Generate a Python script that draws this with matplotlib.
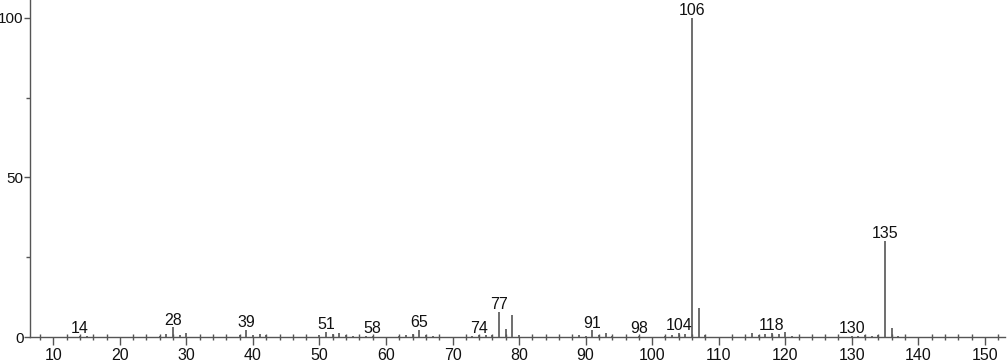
import matplotlib
matplotlib.use("Agg")
import matplotlib.pyplot as plt
from matplotlib.ticker import MultipleLocator

plt.rcParams['font.family'] = ['Liberation Sans', 'DejaVu Sans']

mz = [14, 15, 26, 27, 28, 29, 30, 38, 39, 40, 41, 42, 50, 51, 52, 53, 54, 55,
      57, 58, 62, 63, 64, 65, 66, 67, 73, 74, 75, 76, 77, 78, 79, 80, 89, 90,
      91, 92, 93, 94, 98, 102, 103, 104, 105, 106, 107, 108, 115, 116, 117,
      118, 119, 120, 121, 130, 131, 132, 133, 134, 135, 136, 137]
intensity = [0.3, 0.2, 0.4, 0.8, 3.0, 0.5, 1.2, 0.5, 2.2, 0.5, 0.8, 0.5, 0.6,
             1.7, 1.0, 1.2, 0.5, 0.3, 0.3, 0.4, 0.3, 0.6, 0.8, 2.2, 0.7, 0.3,
             0.3, 0.5, 0.6, 0.5, 7.8, 2.6, 6.9, 0.6, 0.6, 0.4, 2.1, 0.6, 1.4,
             0.3, 0.3, 0.4, 0.6, 1.2, 0.8, 100.0, 9.1, 0.5, 1.3, 0.6, 1.0, 1.2,
             0.8, 1.6, 0.3, 0.3, 0.3, 0.5, 0.4, 0.6, 30.0, 2.8, 0.3]
labeled = [14, 28, 39, 51, 58, 65, 74, 77, 91, 98, 104, 106, 118, 130, 135]

fig = plt.figure(figsize=(10.07, 3.62), dpi=100)
ax = fig.add_axes([0.0298, 0.069, 0.968, 0.931])

ax.vlines(mz, 0, intensity, colors='#555555', linewidth=1.2)
lookup = dict(zip(mz, intensity))
for m in labeled:
    ax.annotate(str(m), (m, lookup[m]), xytext=(0, 2), textcoords='offset points',
                ha='center', va='baseline', fontsize=11.5, color='#111111')

ax.set_xlim(6.5, 153)
ax.set_ylim(0, 105.6)
ax.xaxis.set_major_locator(MultipleLocator(10))
ax.xaxis.set_minor_locator(MultipleLocator(2))
ax.yaxis.set_major_locator(MultipleLocator(50))
ax.yaxis.set_minor_locator(MultipleLocator(25))
for s in ['top', 'right']:
    ax.spines[s].set_visible(False)
for s in ['left', 'bottom']:
    ax.spines[s].set_color('#555555')
    ax.spines[s].set_linewidth(1.0)
ax.tick_params(axis='x', which='major', direction='out', length=6, width=1,
               color='#555555', labelsize=11.5, labelcolor='#111111', pad=2)
ax.tick_params(axis='x', which='minor', direction='inout', length=4, width=1,
               color='#555555')
ax.tick_params(axis='y', which='major', direction='out', length=4, width=1,
               color='#555555', labelsize=11, labelcolor='#111111', pad=0.5)
ax.tick_params(axis='y', which='minor', direction='out', length=3, width=1,
               color='#555555')

fig.savefig('out.png', dpi=100)
